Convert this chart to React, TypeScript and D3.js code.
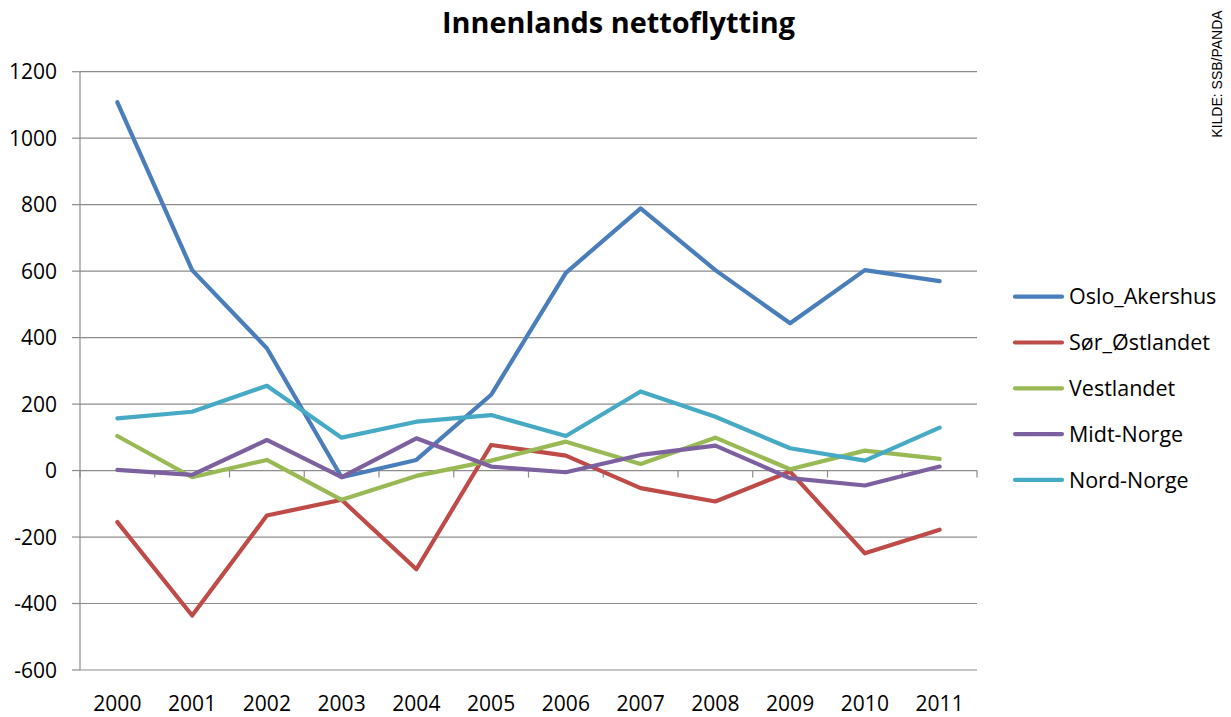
import * as d3 from "d3";

// years on the category axis
const years = ["2000", "2001", "2002", "2003", "2004", "2005", "2006", "2007", "2008", "2009", "2010", "2011"];

// series values
const osloAkershus = [1108, 603, 368, -20, 32, 228, 595, 789, 603, 443, 603, 570];
const sorOstlandet = [-155, -436, -135, -88, -297, 77, 45, -53, -93, -3, -249, -178];
const vestlandet = [104, -20, 32, -88, -16, 30, 87, 20, 99, 4, 60, 35];
const midtNorge = [2, -13, 92, -20, 97, 12, -5, 47, 75, -23, -45, 12];
const nordNorge = [157, 177, 255, 99, 147, 167, 104, 238, 162, 67, 30, 129];

const seriesNames = ["Oslo_Akershus", "Sør_Østlandet", "Vestlandet", "Midt-Norge", "Nord-Norge"];
const seriesColors = ["#4a7ebb", "#be4b48", "#98b954", "#7d60a0", "#46aac5"];
const seriesValues = [osloAkershus, sorOstlandet, vestlandet, midtNorge, nordNorge];

const yTicks = [-600, -400, -200, 0, 200, 400, 600, 800, 1000, 1200];

const W = 1231;
const H = 717;
const FONT = "'Open Sans', sans-serif";

export default function App() {
  // plot area
  const left = 80;
  const right = 977;
  const top = 71.7;
  const bottom = 670;

  const x = d3.scaleBand().domain(years).range([left, right]);
  const y = d3.scaleLinear().domain([-600, 1200]).range([bottom, top]);
  const cx = (yr: string) => (x(yr) as number) + x.bandwidth() / 2;

  const line = d3
    .line<number>()
    .x((_, i) => cx(years[i]))
    .y((d) => y(d));

  // tick marks between categories on the zero line
  const bounds = d3.range(years.length + 1).map((i) => left + i * x.bandwidth());

  return (
    <svg width={W} height={H} style={{ position: "absolute", left: 0, top: 0, background: "#fff" }}>
      <text
        x={618.5}
        y={33}
        textAnchor="middle"
        fontFamily={FONT}
        fontWeight={700}
        fontSize={28}
        textLength={353}
        lengthAdjust="spacingAndGlyphs"
        fill="#000"
      >
        Innenlands nettoflytting
      </text>

      {/* gridlines + y labels */}
      {yTicks.map((t) => (
        <g key={t}>
          <line x1={left} x2={right} y1={y(t)} y2={y(t)} stroke="#8c8c8c" strokeWidth={1.2} />
          <line x1={left - 8} x2={left} y1={y(t)} y2={y(t)} stroke="#8c8c8c" strokeWidth={1.2} />
          <text
            x={57}
            y={y(t)}
            dy="0.36em"
            textAnchor="end"
            fontFamily={FONT}
            fontSize={21}
            fill="#000"
          >
            {t}
          </text>
        </g>
      ))}
      <line x1={left} x2={left} y1={top} y2={bottom} stroke="#8c8c8c" strokeWidth={1.2} />

      {/* category ticks on the zero line */}
      {bounds.map((b, i) => (
        <line key={i} x1={b} x2={b} y1={y(0)} y2={y(0) + 7} stroke="#8c8c8c" strokeWidth={1.2} />
      ))}

      {years.map((yr) => (
        <text
          key={yr}
          x={cx(yr)}
          y={711}
          textAnchor="middle"
          fontFamily={FONT}
          fontSize={21}
          fill="#000"
        >
          {yr}
        </text>
      ))}

      {seriesValues.map((vals, i) => (
        <path
          key={seriesNames[i]}
          d={line(vals) ?? ""}
          fill="none"
          stroke={seriesColors[i]}
          strokeWidth={4.2}
          strokeLinejoin="round"
          strokeLinecap="round"
        />
      ))}

      {/* legend */}
      {seriesNames.map((name, i) => {
        const ly = 296.7 + i * 45.8;
        return (
          <g key={name}>
            <line x1={1015} x2={1062} y1={ly} y2={ly} stroke={seriesColors[i]} strokeWidth={4.2} strokeLinecap="round" />
            <text x={1069} y={ly} dy="0.36em" fontFamily={FONT} fontSize={21.5} fill="#000">
              {name}
            </text>
          </g>
        );
      })}

      <text
        transform="translate(1222,74) rotate(-90)"
        textAnchor="middle"
        fontFamily="'Liberation Sans', Arial, sans-serif"
        fontSize={14}
        fill="#000"
      >
        KILDE: SSB/PANDA
      </text>
    </svg>
  );
}
